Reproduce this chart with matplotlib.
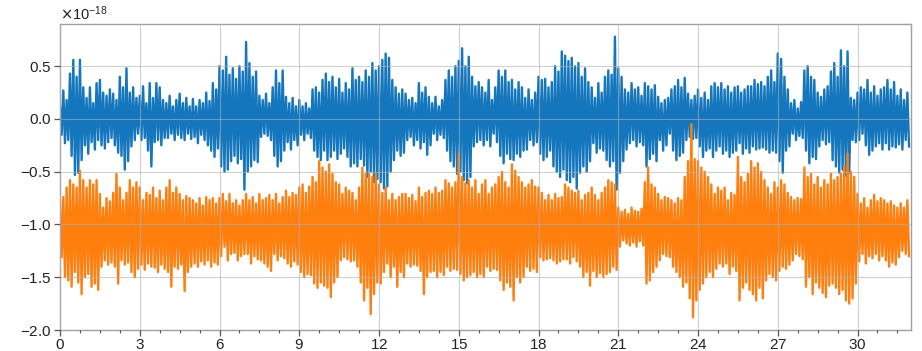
import numpy as np
import matplotlib
matplotlib.use("Agg")
import matplotlib.pyplot as plt
from matplotlib.ticker import MultipleLocator, ScalarFormatter

# ---- data (units of 1e-18), peak values per 1/8 s bin ----
bins_per_second = 8
duration = 32

blue_upper = [
    0.12, 0.27, 0.18, 0.43, 0.56, 0.40, 0.56, 0.30,
    0.20, 0.30, 0.15, 0.34, 0.37, 0.25, 0.22, 0.28,
    0.24, 0.18, 0.40, 0.30, 0.48, 0.25, 0.30, 0.20,
    0.22, 0.31, 0.15, 0.34, 0.20, 0.34, 0.30, 0.18,
    0.15, 0.22, 0.12, 0.18, 0.24, 0.15, 0.20, 0.12,
    0.19, 0.12, 0.18, 0.15, 0.25, 0.17, 0.34, 0.28,
    0.50, 0.46, 0.59, 0.42, 0.48, 0.38, 0.50, 0.45,
    0.73, 0.53, 0.40, 0.45, 0.22, 0.18, 0.24, 0.15,
    0.30, 0.46, 0.34, 0.46, 0.21, 0.15, 0.20, 0.12,
    0.18, 0.12, 0.15, 0.10, 0.28, 0.30, 0.25, 0.37,
    0.43, 0.35, 0.40, 0.30, 0.38, 0.25, 0.34, 0.28,
    0.48, 0.37, 0.40, 0.35, 0.46, 0.40, 0.53, 0.46,
    0.50, 0.56, 0.62, 0.58, 0.37, 0.30, 0.24, 0.28,
    0.24, 0.18, 0.20, 0.15, 0.34, 0.25, 0.30, 0.21,
    0.15, 0.21, 0.12, 0.18, 0.37, 0.46, 0.40, 0.50,
    0.55, 0.67, 0.50, 0.59, 0.40, 0.31, 0.35, 0.30,
    0.25, 0.37, 0.18, 0.30, 0.46, 0.40, 0.46, 0.35,
    0.37, 0.28, 0.35, 0.30, 0.20, 0.28, 0.18, 0.25,
    0.40, 0.37, 0.38, 0.30, 0.35, 0.50, 0.45, 0.64,
    0.60, 0.55, 0.58, 0.50, 0.53, 0.40, 0.48, 0.35,
    0.30, 0.20, 0.34, 0.25, 0.40, 0.46, 0.42, 0.78,
    0.48, 0.40, 0.28, 0.25, 0.34, 0.28, 0.30, 0.22,
    0.34, 0.31, 0.28, 0.32, 0.21, 0.15, 0.18, 0.20,
    0.28, 0.31, 0.37, 0.30, 0.39, 0.24, 0.18, 0.22,
    0.28, 0.20, 0.25, 0.18, 0.31, 0.34, 0.30, 0.34,
    0.28, 0.31, 0.25, 0.30, 0.31, 0.25, 0.28, 0.31,
    0.31, 0.37, 0.33, 0.35, 0.31, 0.40, 0.46, 0.35,
    0.62, 0.57, 0.40, 0.28, 0.15, 0.18, 0.10, 0.16,
    0.46, 0.50, 0.40, 0.37, 0.25, 0.21, 0.28, 0.31,
    0.45, 0.53, 0.40, 0.65, 0.50, 0.64, 0.20, 0.18,
    0.25, 0.30, 0.28, 0.37, 0.25, 0.31, 0.22, 0.28,
    0.30, 0.37, 0.28, 0.35, 0.22, 0.28, 0.18, 0.25,
]

blue_lower = [
    -0.15, -0.23, -0.20, -0.35, -0.53, -0.51, -0.39, -0.25,
    -0.33, -0.22, -0.29, -0.20, -0.25, -0.28, -0.22, -0.18,
    -0.25, -0.32, -0.35, -0.48, -0.40, -0.26, -0.20, -0.14,
    -0.20, -0.18, -0.30, -0.45, -0.22, -0.20, -0.25, -0.18,
    -0.18, -0.14, -0.20, -0.15, -0.18, -0.20, -0.14, -0.19,
    -0.17, -0.23, -0.15, -0.20, -0.25, -0.30, -0.36, -0.28,
    -0.45, -0.50, -0.48, -0.40, -0.35, -0.42, -0.38, -0.67,
    -0.50, -0.45, -0.39, -0.41, -0.17, -0.14, -0.16, -0.20,
    -0.35, -0.45, -0.40, -0.30, -0.22, -0.29, -0.20, -0.25,
    -0.15, -0.20, -0.14, -0.18, -0.30, -0.36, -0.39, -0.30,
    -0.39, -0.36, -0.30, -0.38, -0.33, -0.28, -0.36, -0.45,
    -0.42, -0.45, -0.38, -0.44, -0.55, -0.50, -0.60, -0.57,
    -0.60, -0.66, -0.64, -0.50, -0.39, -0.30, -0.35, -0.32,
    -0.20, -0.17, -0.25, -0.20, -0.28, -0.22, -0.34, -0.25,
    -0.14, -0.20, -0.15, -0.18, -0.30, -0.40, -0.45, -0.52,
    -0.50, -0.58, -0.61, -0.55, -0.26, -0.22, -0.20, -0.25,
    -0.20, -0.26, -0.14, -0.22, -0.35, -0.42, -0.33, -0.38,
    -0.39, -0.33, -0.36, -0.30, -0.29, -0.20, -0.25, -0.22,
    -0.33, -0.39, -0.36, -0.30, -0.45, -0.50, -0.55, -0.48,
    -0.58, -0.60, -0.55, -0.66, -0.51, -0.45, -0.50, -0.40,
    -0.23, -0.32, -0.28, -0.30, -0.39, -0.45, -0.40, -0.67,
    -0.51, -0.40, -0.29, -0.23, -0.20, -0.26, -0.22, -0.25,
    -0.45, -0.38, -0.33, -0.40, -0.20, -0.30, -0.25, -0.14,
    -0.30, -0.39, -0.35, -0.32, -0.20, -0.17, -0.19, -0.18,
    -0.26, -0.36, -0.30, -0.28, -0.36, -0.30, -0.26, -0.33,
    -0.30, -0.36, -0.32, -0.30, -0.23, -0.33, -0.28, -0.32,
    -0.26, -0.29, -0.28, -0.27, -0.29, -0.32, -0.30, -0.32,
    -0.40, -0.51, -0.30, -0.26, -0.14, -0.20, -0.16, -0.18,
    -0.30, -0.42, -0.36, -0.38, -0.26, -0.20, -0.24, -0.22,
    -0.39, -0.45, -0.51, -0.48, -0.54, -0.51, -0.20, -0.22,
    -0.20, -0.14, -0.25, -0.34, -0.30, -0.26, -0.23, -0.29,
    -0.23, -0.29, -0.26, -0.27, -0.24, -0.29, -0.20, -0.26,
]

# second series: deviations about its offset
orange_offset = -1.0
orange_upper = [
    0.23, 0.26, 0.35, 0.42, 0.38, 0.35, 0.51, 0.42,
    0.35, 0.42, 0.38, 0.42, 0.29, 0.16, 0.25, 0.22,
    0.30, 0.48, 0.35, 0.23, 0.30, 0.42, 0.35, 0.40,
    0.35, 0.23, 0.30, 0.28, 0.35, 0.25, 0.32, 0.23,
    0.35, 0.42, 0.30, 0.35, 0.29, 0.23, 0.27, 0.25,
    0.23, 0.20, 0.25, 0.18, 0.26, 0.23, 0.25, 0.20,
    0.25, 0.29, 0.22, 0.29, 0.20, 0.23, 0.18, 0.23,
    0.29, 0.23, 0.26, 0.20, 0.29, 0.23, 0.25, 0.28,
    0.23, 0.29, 0.20, 0.26, 0.32, 0.26, 0.30, 0.28,
    0.35, 0.38, 0.30, 0.36, 0.45, 0.40, 0.60, 0.54,
    0.50, 0.57, 0.48, 0.40, 0.38, 0.29, 0.35, 0.32,
    0.30, 0.23, 0.35, 0.54, 0.48, 0.48, 0.45, 0.48,
    0.38, 0.30, 0.35, 0.23, 0.29, 0.23, 0.26, 0.29,
    0.29, 0.25, 0.28, 0.22, 0.35, 0.26, 0.30, 0.32,
    0.29, 0.35, 0.30, 0.32, 0.42, 0.39, 0.35, 0.40,
    0.67, 0.45, 0.39, 0.42, 0.35, 0.42, 0.29, 0.38,
    0.42, 0.29, 0.35, 0.38, 0.45, 0.50, 0.40, 0.35,
    0.57, 0.51, 0.45, 0.40, 0.35, 0.38, 0.42, 0.36,
    0.35, 0.30, 0.23, 0.28, 0.23, 0.29, 0.25, 0.26,
    0.38, 0.35, 0.32, 0.30, 0.32, 0.23, 0.28, 0.30,
    0.35, 0.28, 0.23, 0.30, 0.35, 0.42, 0.40, 0.38,
    0.16, 0.12, 0.14, 0.10, 0.16, 0.13, 0.12, 0.15,
    0.40, 0.54, 0.38, 0.35, 0.29, 0.23, 0.26, 0.25,
    0.23, 0.20, 0.25, 0.23, 0.45, 0.60, 0.95, 0.62,
    0.60, 0.54, 0.50, 0.45, 0.38, 0.29, 0.35, 0.32,
    0.35, 0.23, 0.30, 0.28, 0.64, 0.45, 0.40, 0.48,
    0.60, 0.54, 0.58, 0.50, 0.42, 0.35, 0.29, 0.40,
    0.35, 0.42, 0.38, 0.30, 0.26, 0.23, 0.25, 0.24,
    0.54, 0.45, 0.48, 0.38, 0.45, 0.35, 0.42, 0.38,
    0.48, 0.42, 0.45, 0.48, 0.55, 0.67, 0.50, 0.45,
    0.29, 0.20, 0.25, 0.16, 0.23, 0.28, 0.22, 0.25,
    0.23, 0.20, 0.22, 0.18, 0.16, 0.20, 0.16, 0.23,
]

orange_lower = [
    -0.31, -0.50, -0.53, -0.59, -0.45, -0.55, -0.66, -0.50,
    -0.47, -0.59, -0.56, -0.62, -0.40, -0.34, -0.38, -0.36,
    -0.40, -0.56, -0.34, -0.38, -0.36, -0.45, -0.50, -0.42,
    -0.38, -0.43, -0.37, -0.40, -0.41, -0.45, -0.38, -0.42,
    -0.45, -0.59, -0.40, -0.42, -0.38, -0.63, -0.45, -0.40,
    -0.37, -0.40, -0.35, -0.38, -0.34, -0.40, -0.36, -0.38,
    -0.30, -0.21, -0.34, -0.28, -0.27, -0.34, -0.30, -0.28,
    -0.28, -0.37, -0.30, -0.33, -0.34, -0.37, -0.40, -0.44,
    -0.28, -0.34, -0.30, -0.32, -0.37, -0.40, -0.35, -0.38,
    -0.45, -0.50, -0.47, -0.48, -0.56, -0.60, -0.55, -0.58,
    -0.60, -0.69, -0.55, -0.50, -0.34, -0.31, -0.33, -0.35,
    -0.34, -0.40, -0.55, -0.72, -0.60, -0.85, -0.66, -0.55,
    -0.56, -0.45, -0.37, -0.50, -0.40, -0.59, -0.45, -0.50,
    -0.37, -0.40, -0.38, -0.39, -0.44, -0.66, -0.50, -0.45,
    -0.44, -0.50, -0.45, -0.48, -0.40, -0.44, -0.42, -0.43,
    -0.47, -0.53, -0.50, -0.48, -0.45, -0.50, -0.47, -0.50,
    -0.40, -0.44, -0.42, -0.43, -0.53, -0.62, -0.55, -0.59,
    -0.72, -0.50, -0.55, -0.50, -0.40, -0.44, -0.42, -0.45,
    -0.31, -0.34, -0.33, -0.32, -0.34, -0.37, -0.35, -0.33,
    -0.33, -0.37, -0.31, -0.35, -0.40, -0.50, -0.45, -0.58,
    -0.44, -0.50, -0.46, -0.50, -0.47, -0.45, -0.40, -0.43,
    -0.21, -0.15, -0.18, -0.20, -0.17, -0.21, -0.16, -0.20,
    -0.56, -0.53, -0.45, -0.40, -0.34, -0.28, -0.30, -0.31,
    -0.40, -0.45, -0.50, -0.59, -0.55, -0.70, -0.88, -0.72,
    -0.62, -0.56, -0.50, -0.45, -0.50, -0.42, -0.37, -0.40,
    -0.37, -0.47, -0.40, -0.44, -0.72, -0.60, -0.55, -0.62,
    -0.66, -0.72, -0.60, -0.70, -0.53, -0.47, -0.50, -0.53,
    -0.44, -0.40, -0.42, -0.38, -0.34, -0.28, -0.30, -0.33,
    -0.59, -0.50, -0.66, -0.55, -0.60, -0.65, -0.69, -0.58,
    -0.56, -0.60, -0.66, -0.62, -0.72, -0.75, -0.70, -0.56,
    -0.35, -0.28, -0.37, -0.30, -0.32, -0.28, -0.34, -0.30,
    -0.34, -0.40, -0.36, -0.38, -0.31, -0.25, -0.28, -0.30,
]

x_ticks = [0, 3, 6, 9, 12, 15, 18, 21, 24, 27, 30]
y_ticks = [-2.0, -1.5, -1.0, -0.5, 0.0, 0.5]
scale = 1e-18

# ---- build zig-zag traces from the peak/trough lists ----
def trace(upper, lower, offset=0.0):
    n = len(upper)
    dt = 1.0 / bins_per_second
    t = np.empty(2 * n)
    y = np.empty(2 * n)
    t[0::2] = np.arange(n) * dt
    t[1::2] = np.arange(n) * dt + dt / 2
    y[0::2] = np.asarray(upper) + offset
    y[1::2] = np.asarray(lower) + offset
    return t, y * scale

plt.rcParams['font.family'] = ['Liberation Sans', 'DejaVu Sans']
plt.rcParams['axes.formatter.use_mathtext'] = True

fig = plt.figure(figsize=(9.22, 3.51), dpi=100)
ax = fig.add_axes([60 / 922, 21 / 351, (910.7 - 60) / 922, (330 - 24) / 351])

tb, yb = trace(blue_upper, blue_lower)
to, yo = trace(orange_upper, orange_lower, orange_offset)
ax.plot(tb, yb, color='#1476bc', lw=1.7)
ax.plot(to, yo, color='#ff7f0e', lw=1.7)

ax.set_xlim(0, duration)
ax.set_ylim(-2.0 * scale, 0.9 * scale)
ax.set_xticks(x_ticks)
ax.xaxis.set_minor_locator(MultipleLocator(0.75))
ax.set_yticks([v * scale for v in y_ticks])

fmt = ScalarFormatter(useMathText=True)
ax.yaxis.set_major_formatter(fmt)

ax.grid(True, which='major', color='#b0b0b0', alpha=0.6, lw=0.8)
ax.set_axisbelow(False)
for s in ax.spines.values():
    s.set_color('#a0a0a0')
    s.set_linewidth(1.0)
ax.tick_params(which='major', direction='out', length=4, width=0.9, color='#555555',
               labelsize=11, labelcolor='#222222', pad=2)
ax.tick_params(which='minor', direction='out', length=2.5, width=0.8, color='#555555')
ax.yaxis.get_offset_text().set_fontsize(10.5)
ax.yaxis.get_offset_text().set_color('#222222')

fig.savefig('out.png', dpi=100)
